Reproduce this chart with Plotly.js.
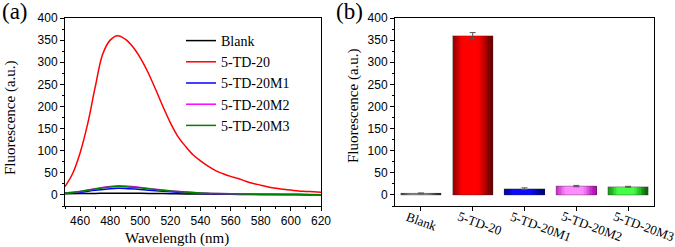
<!DOCTYPE html>
<html><head><meta charset="utf-8">
<script src="https://cdn.plot.ly/plotly-3.0.1.min.js"></script>
<style>html,body{margin:0;padding:0;background:#fff}#chart{width:675px;height:247px}</style>
</head><body><div id="chart"></div>
<script>
// ---- Data ----
const wlRed = [450,455,460,465,470,475,480,485,490,495,500,505,510,515,520,525,530,535,540,545,550,555,560,565,570,575,580,585,590,595,600,605,610,615,620];
const red_5TD20 = [19,48,95,160,243,318,350,360,352,335,310,278,240,200,163,132,110,91,77,65,55,48,42,37,31,26,22,18,15,13,11,9,8,7,6];
const wlSmall = [450,460,470,480,485,490,500,510,520,530,540,550,560,570,580,590,600,610,620];
const blank = [2.5,3,3.5,4,4,4,3.8,3.3,2.8,2.3,2,1.7,1.4,1.2,1,0.9,0.8,0.7,0.6];
const m1 = [3,6,10.5,14,15,14.7,12.5,9.5,7,5,3.5,2.6,2,1.5,1.2,1,0.8,0.6,0.5];
const m2 = [4,8,14,19,20.5,20,17,13,9.5,6.5,4.5,3.3,2.5,1.9,1.5,1.2,1,0.8,0.6];
const m3 = [4.5,8,13.5,18,19,18.7,16,12.5,9,6.5,4.5,3.3,2.5,2,1.6,1.3,1.1,0.9,0.7];

const barCats = ['Blank','5-TD-20','5-TD-20M1','5-TD-20M2','5-TD-20M3'];
const barVals = [3.5, 360, 14, 20, 18.5];
const barErr = [1, 7, 2, 1.5, 1];
const barLight = ['#9a9a9a','#ff0000','#0a0aff','#ff8cff','#44ff44'];
const barDark = ['#1c1c1c','#5c0000','#000070','#a800a8','#005400'];

const yTicks = [0,50,100,150,200,250,300,350,400];

// ---- Styling helpers ----
const SERIF = 'Liberation Serif, Times New Roman, serif';
const SANS = 'Liberation Sans, Arial, sans-serif';
function hex2rgb(h){return [1,3,5].map(i=>parseInt(h.substr(i,2),16));}
function mix(a,b,t){const A=hex2rgb(a),B=hex2rgb(b);return 'rgb('+A.map((v,i)=>Math.round(v+(B[i]-v)*t)).join(',')+')';}
function profile(t){
  if(t<0.28){const s=t/0.28;return 0.4+0.6*(s*s*(3-2*s));}
  if(t<0.6) return 1;
  const s=(t-0.6)/0.4; return 1-0.9*(s*s*(3-2*s));
}

const traces = [];
const lineW = 1.5;
traces.push({x:wlSmall,y:blank,name:'Blank',type:'scatter',mode:'lines',line:{color:'#000000',width:lineW,shape:'spline'},xaxis:'x',yaxis:'y'});
traces.push({x:wlRed,y:red_5TD20,name:'5-TD-20',type:'scatter',mode:'lines',line:{color:'#ff0000',width:lineW,shape:'spline'},xaxis:'x',yaxis:'y'});
traces.push({x:wlSmall,y:m1,name:'5-TD-20M1',type:'scatter',mode:'lines',line:{color:'#0000ff',width:lineW,shape:'spline'},xaxis:'x',yaxis:'y'});
traces.push({x:wlSmall,y:m2,name:'5-TD-20M2',type:'scatter',mode:'lines',line:{color:'#ff00ff',width:lineW,shape:'spline'},xaxis:'x',yaxis:'y'});
traces.push({x:wlSmall,y:m3,name:'5-TD-20M3',type:'scatter',mode:'lines',line:{color:'#008000',width:lineW,shape:'spline'},xaxis:'x',yaxis:'y'});

// gradient bars as vertical strips
const W = 0.78, N = 26;
for(let i=0;i<N;i++){
  const t=(i+0.5)/N;
  traces.push({type:'bar',x:barCats,y:barVals,xaxis:'x2',yaxis:'y2',showlegend:false,
    width:(i<N-1? W/N*1.25 : W/N), offset:-W/2+i*W/N,
    marker:{color:barCats.map((c,k)=>mix(barDark[k],barLight[k],profile(t))),line:{width:0}}});
}
traces.push({type:'bar',x:barCats,y:barVals,xaxis:'x2',yaxis:'y2',showlegend:false,width:W,
  marker:{color:'rgba(0,0,0,0)',line:{width:0.6,color:'rgba(40,40,40,0.6)'}},
  error_y:{type:'data',array:barErr,visible:true,color:'#555555',thickness:1,width:3}});

const axBase = {showgrid:false,zeroline:false,showline:true,linecolor:'#000',linewidth:1,mirror:true,
  ticks:'outside',ticklen:4,tickwidth:1,tickcolor:'#000',tickfont:{family:SANS,size:12,color:'#000'}};

const annotations = [
  {text:'(a)',x:0,y:1,xref:'paper',yref:'paper',xanchor:'left',yanchor:'top',yshift:3,showarrow:false,font:{family:SERIF,size:23,color:'#000'}},
  {text:'(b)',x:334/675,y:1,xref:'paper',yref:'paper',xanchor:'left',yanchor:'top',yshift:3,showarrow:false,font:{family:SERIF,size:23,color:'#000'}},
  {text:'Fluorescence (a.u.)',x:10/675,y:1-118/247,xref:'paper',yref:'paper',textangle:-90,showarrow:false,xanchor:'center',yanchor:'middle',font:{family:SERIF,size:15,color:'#000'}},
  {text:'Fluorescence (a.u.)',x:353/675,y:1-106/247,xref:'paper',yref:'paper',textangle:-90,showarrow:false,xanchor:'center',yanchor:'middle',font:{family:SERIF,size:15,color:'#000'}},
  {text:'Wavelength (nm)',x:177/675,y:1-238/247,xref:'paper',yref:'paper',showarrow:false,xanchor:'center',yanchor:'middle',font:{family:SERIF,size:15,color:'#000'}}
];
barCats.forEach(c=>annotations.push({text:c,x:c,xref:'x2',y:1-206/247,yref:'paper',xanchor:'left',yanchor:'top',xshift:-19,textangle:20,showarrow:false,font:{family:SERIF,size:13,color:'#000'}}));

const layout = {
  width:675,height:247,margin:{l:0,r:0,t:0,b:0},paper_bgcolor:'#fff',plot_bgcolor:'#fff',
  showlegend:true,barmode:'overlay',bargap:0,
  xaxis:Object.assign({},axBase,{domain:[65/675,321/675],range:[450,620],tick0:460,dtick:20,
    minor:{ticks:'outside',ticklen:2,dtick:10,tick0:450,tickcolor:'#000',showgrid:false},anchor:'y'}),
  yaxis:Object.assign({},axBase,{domain:[41/247,229/247],range:[-25,400],tickvals:yTicks,
    minor:{ticks:'outside',ticklen:2,dtick:25,tick0:0,tickcolor:'#000',showgrid:false},anchor:'x'}),
  xaxis2:Object.assign({},axBase,{domain:[395/675,654/675],range:[-0.5,4.5],type:'category',showticklabels:false,anchor:'y2'}),
  yaxis2:Object.assign({},axBase,{domain:[41/247,229/247],range:[-25,400],tickvals:yTicks,
    minor:{ticks:'outside',ticklen:2,dtick:25,tick0:0,tickcolor:'#000',showgrid:false},anchor:'x2'}),
  legend:{x:181/675,y:1-25/247,xanchor:'left',yanchor:'top',bgcolor:'rgba(0,0,0,0)',borderwidth:0,
    font:{family:SERIF,size:14,color:'#000'},itemwidth:30,tracegroupgap:0},
  annotations:annotations
};
Plotly.newPlot('chart',traces,layout,{staticPlot:true,displayModeBar:false});
</script></body></html>
